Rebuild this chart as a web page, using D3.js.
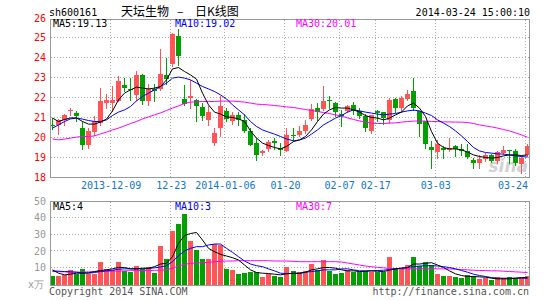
<!DOCTYPE html>
<html><head><meta charset="utf-8">
<script src="https://cdn.jsdelivr.net/npm/d3@7"></script>
<style>
body{margin:0;background:#fff}
svg{display:block}
text{font-family:"DejaVu Sans Mono",monospace;font-size:10px}
</style>
</head><body>
<svg id="c" width="545" height="300"></svg>
<script>
const dates = ["2013-11-25","2013-11-26","2013-11-27","2013-11-28","2013-11-29","2013-12-02","2013-12-03","2013-12-04","2013-12-05","2013-12-06",
"2013-12-09","2013-12-10","2013-12-11","2013-12-12","2013-12-13","2013-12-16","2013-12-17","2013-12-18","2013-12-19","2013-12-20",
"2013-12-23","2013-12-24","2013-12-25","2013-12-26","2013-12-27","2013-12-30","2013-12-31","2014-01-02","2014-01-03",
"2014-01-06","2014-01-07","2014-01-08","2014-01-09","2014-01-10","2014-01-13","2014-01-14","2014-01-15","2014-01-16","2014-01-17",
"2014-01-20","2014-01-21","2014-01-22","2014-01-23","2014-01-24","2014-01-27","2014-01-28","2014-01-29","2014-01-30",
"2014-02-07","2014-02-10","2014-02-11","2014-02-12","2014-02-13","2014-02-14","2014-02-17","2014-02-18","2014-02-19","2014-02-20","2014-02-21",
"2014-02-24","2014-02-25","2014-02-26","2014-02-27","2014-02-28","2014-03-03","2014-03-04","2014-03-05","2014-03-06","2014-03-07",
"2014-03-10","2014-03-11","2014-03-12","2014-03-13","2014-03-14","2014-03-17","2014-03-18","2014-03-19","2014-03-20","2014-03-21","2014-03-24"];

const open = [20.65,20.65,20.9,21.3,21.22,20.47,19.6,20.27,20.72,21.72,
21.72,21.83,22.63,22.42,22.13,23.15,21.8,22.45,22.45,23.12,
23.68,25.08,21.93,21.97,21.88,21.53,20.88,19.72,20.47,
21.33,20.8,21.1,20.85,20.33,19.75,19.22,19.43,19.83,19.5,
19.33,20.15,20.13,20.33,20.93,21.5,21.43,21.9,21.72,
21.2,21.33,21.63,21.33,21.05,20.33,21.33,21.27,20.88,21.93,21.47,
21.93,22.33,21.3,20.8,19.52,19.27,19.47,19.4,19.58,19.43,
19.33,18.88,18.72,18.93,19.1,18.8,19.22,19.38,19.33,18.67,19.1];
const high = [21.0,20.95,21.2,21.5,21.3,20.8,20.47,21.05,22.47,22.2,
22.55,23.08,23.0,22.97,23.3,23.2,22.7,22.7,24.45,24.0,
25.22,25.45,22.63,22.88,21.93,21.72,21.55,20.47,22.05,
21.5,21.27,21.27,21.17,20.47,19.97,19.38,19.88,19.97,19.72,
20.47,20.47,20.55,20.88,21.68,21.72,22.55,22.05,21.77,
21.38,21.6,21.77,21.47,21.17,21.13,21.38,21.27,22.0,22.0,22.05,
22.38,23.0,21.33,20.8,19.83,19.88,19.55,19.97,19.6,19.68,
19.67,18.97,19.13,19.22,19.17,19.33,19.55,19.4,19.43,19.05,19.67];
const low = [20.45,20.2,20.65,21.1,20.8,19.43,19.5,20.13,20.63,21.47,
21.3,21.8,22.3,21.88,21.9,21.7,21.65,21.8,22.4,22.7,
23.55,23.63,21.63,21.47,20.8,20.88,20.63,19.6,20.05,
20.8,20.67,20.63,20.3,19.6,18.88,19.13,19.33,19.43,19.13,
19.3,19.88,20.05,20.22,20.88,20.88,21.38,21.47,21.05,
20.55,21.27,21.17,21.0,20.33,20.22,20.8,20.67,20.72,21.27,21.27,
21.88,21.38,20.05,19.5,18.5,18.97,19.0,19.33,19.05,19.1,
18.97,18.47,18.5,18.8,18.78,18.75,19.2,18.75,18.63,18.22,19.05];
const close = [20.6,20.9,21.12,21.38,21.05,19.63,20.33,20.8,21.83,21.88,
21.85,22.83,22.5,22.35,23.13,21.8,22.45,22.3,23.2,22.92,
25.18,24.05,21.68,22.08,21.55,21.05,21.27,20.22,21.55,
20.93,21.1,20.9,20.33,19.63,19.13,19.33,19.77,19.72,19.38,
20.13,20.12,20.33,20.63,21.43,21.27,21.83,21.87,21.27,
21.05,21.55,21.33,21.05,20.47,21.1,21.22,20.97,21.88,21.47,21.97,
22.17,21.47,20.68,19.67,19.35,19.68,19.35,19.5,19.43,19.3,
19.02,18.72,18.93,19.13,18.8,19.27,19.38,19.35,18.72,18.97,19.55];
const volume = [5.0,5.0,5.6,8.4,6.4,9.2,6.0,6.4,13.1,9.2,
8.6,13.1,8.0,7.6,10.9,9.2,10.5,7.0,22.9,15.1,
31.8,36.0,41.8,25.9,20.5,15.1,15.1,23.9,23.5,
9.2,8.6,6.2,7.0,7.6,7.2,4.6,6.2,5.0,4.6,
10.5,8.0,7.2,8.0,12.1,8.6,14.5,8.0,6.2,
7.0,8.6,7.6,7.4,8.0,7.6,7.2,7.6,16.5,9.6,9.2,
11.5,16.5,10.9,13.5,11.5,6.2,5.0,5.0,4.4,4.0,
5.6,5.0,3.2,3.6,2.6,4.4,3.6,4.4,3.6,3.6,5.0];

const ma5 = [20.97,20.8,20.9,20.98,20.98,20.8,20.67,20.67,20.77,20.92,
21.33,21.88,22.22,22.38,22.52,22.47,22.43,22.47,22.55,22.88,
23.43,23.5,23.3,23.13,22.92,22.22,21.63,21.27,21.17,
21.03,21.0,20.93,20.8,20.33,19.97,19.72,19.6,19.5,19.43,
19.55,19.8,19.88,20.05,20.38,20.8,21.17,21.38,21.5,
21.47,21.47,21.38,21.27,21.1,21.0,20.97,20.88,20.97,21.13,21.27,
21.58,21.72,21.47,21.05,20.3,19.72,19.5,19.43,19.43,19.38,
19.27,19.13,19.05,19.0,18.97,19.0,19.08,19.13,19.13,19.1,19.13];
const ma10 = [20.47,20.63,20.8,20.93,20.97,20.92,20.85,20.8,20.8,20.88,
21.1,21.27,21.38,21.55,21.83,22.05,22.22,22.38,22.55,22.72,
22.97,23.02,22.97,22.88,22.72,22.55,22.43,22.3,22.13,
21.93,21.63,21.38,21.13,20.8,20.55,20.38,20.27,20.17,20.05,
19.93,19.83,19.88,19.97,20.17,20.38,20.63,20.8,20.97,
21.1,21.27,21.38,21.33,21.27,21.22,21.17,21.13,21.17,21.2,21.27,
21.33,21.37,21.33,21.22,21.1,20.88,20.72,20.55,20.33,20.08,
19.8,19.5,19.33,19.25,19.22,19.18,19.17,19.13,19.08,19.05,19.02];
const ma30 = [19.93,19.88,19.92,19.97,20.02,20.05,20.05,20.08,20.18,20.27,
20.38,20.47,20.58,20.7,20.8,20.93,21.03,21.13,21.23,21.35,
21.47,21.58,21.7,21.77,21.78,21.8,21.8,21.8,21.82,
21.82,21.82,21.8,21.77,21.72,21.67,21.65,21.63,21.6,21.57,
21.53,21.5,21.45,21.4,21.35,21.3,21.25,21.2,21.13,
21.07,20.98,20.9,20.83,20.77,20.72,20.7,20.7,20.72,20.73,20.77,
20.8,20.82,20.82,20.82,20.8,20.8,20.78,20.78,20.77,20.77,
20.75,20.7,20.63,20.58,20.53,20.47,20.4,20.33,20.23,20.13,20.01];

const vma5 = [8.6,6.6,5.6,6.0,6.6,6.6,6.8,7.6,8.2,8.6,
9.2,10.1,10.0,9.2,9.2,9.6,9.6,10.5,12.1,12.5,
16.5,24.5,29.1,30.4,31.0,26.5,21.5,19.5,17.9,
16.9,15.9,14.5,11.5,8.6,7.0,6.6,6.4,6.0,5.6,
6.2,6.6,6.6,7.2,8.6,9.2,10.0,10.0,9.6,
8.6,8.0,8.0,7.6,7.8,8.0,7.8,7.6,8.4,9.2,9.6,
10.0,12.1,12.1,12.5,12.9,11.5,10.0,8.0,6.2,5.2,
4.6,4.6,4.4,4.2,3.6,3.2,3.2,3.2,3.6,4.0,4.0];
const vma10 = [8.0,7.8,7.6,7.4,7.2,6.8,6.6,7.0,7.6,8.0,
8.4,9.0,9.2,9.2,9.2,9.2,9.4,9.8,10.3,11.1,
13.5,17.1,19.9,21.5,22.5,22.5,23.5,24.1,24.1,
21.5,19.1,16.5,13.9,12.1,11.1,10.5,9.2,8.0,6.6,
6.4,6.4,6.4,7.2,7.6,8.0,8.6,8.6,8.6,
9.2,9.2,8.6,8.0,8.0,8.0,8.2,8.4,8.8,9.2,9.6,
10.0,10.5,10.9,11.1,11.1,10.9,10.5,10.0,9.2,8.2,
7.2,6.0,5.2,4.6,4.0,3.6,3.6,3.6,3.6,3.6,3.5];
const vma30 = [7.6,7.5,7.4,7.3,7.2,7.3,7.4,7.5,7.6,7.7,
7.8,7.9,8.0,8.1,8.2,8.2,8.2,8.3,8.4,8.6,
9.6,10.9,11.9,12.5,12.7,12.9,13.1,13.5,13.7,
13.9,13.9,14.1,14.1,14.1,14.1,14.1,14.1,13.9,13.9,
13.9,13.7,13.5,13.5,13.5,13.5,13.5,13.5,13.5,
13.3,12.7,12.1,11.5,10.9,10.5,10.1,9.8,9.4,9.2,9.2,
9.2,9.2,9.2,9.2,9.2,9.2,9.2,9.2,9.0,8.8,
8.6,8.4,8.2,8.2,8.0,8.0,7.8,7.6,7.4,7.2,7.0];

const priceTicks = [18,19,20,21,22,23,24,25,26];
const volTicks = [10,20,30,40,50];
const tickDates = ["2013-12-09","2013-12-23","2014-01-06","2014-01-20","2014-02-07","2014-02-17","2014-03-03","2014-03-24"];
const tickLabels = ["2013-12-09","12-23","2014-01-06","01-20","02-07","02-17","03-03","03-24"];

const RED="#ff5555", GREEN="#00a000";
const svg = d3.select("#c");

const x = d3.scaleBand().domain(dates).range([50,530]).paddingInner(1/6).paddingOuter(0).align(0);
const yP = d3.scaleLinear().domain([18,26]).range([177.5,17.5]);
const yV = d3.scaleLinear().domain([0,50]).range([284.2,200.8]);
const cx = d => Math.round(x(d)) + 2.5;

// header
svg.append("text").attr("x",49).attr("y",16).text("sh600161");
const title = svg.append("text").attr("y",15.5).style("font-family","'Noto Sans CJK SC'").style("font-size","12px");
title.append("tspan").attr("x",121).text("天坛生物");
title.append("tspan").attr("x",177).text("–");
title.append("tspan").attr("x",195).text("日K线图");
svg.append("text").attr("x",530).attr("y",16).attr("text-anchor","end").text("2014-03-24 15:00:10");

// grids
const grid = svg.append("g").attr("stroke","#aaa").attr("stroke-dasharray","1,2").attr("shape-rendering","crispEdges");
priceTicks.filter(t=>t>18&&t<26).forEach(t=>{
  const y=Math.floor(yP(t))+0.5;
  grid.append("line").attr("x1",51).attr("x2",529).attr("y1",y).attr("y2",y);
});
volTicks.filter(t=>t<50).forEach(t=>{
  const y=Math.floor(yV(t))+0.5;
  grid.append("line").attr("x1",51).attr("x2",529).attr("y1",y).attr("y2",y);
});
tickDates.forEach(d=>{
  const xx=Math.round(x(d))+0.5;
  grid.append("line").attr("x1",xx).attr("x2",xx).attr("y1",20).attr("y2",177);
  grid.append("line").attr("x1",xx).attr("x2",xx).attr("y1",202).attr("y2",285);
});

// watermark
svg.append("text").attr("x",528).attr("y",172).attr("text-anchor","end")
  .style("font-family","'DejaVu Sans'").style("font-size","17px").style("font-style","italic").style("font-weight","bold")
  .attr("fill","#c8c8c8").attr("opacity",0.8).text("sina");

// candles
const cg = svg.append("g").attr("shape-rendering","crispEdges");
dates.forEach((d,i)=>{
  const up = close[i] >= open[i];
  const col = up ? RED : GREEN;
  const xx = Math.round(x(d));
  cg.append("line").attr("x1",xx+2.5).attr("x2",xx+2.5)
    .attr("y1",Math.round(yP(high[i]))).attr("y2",Math.round(yP(low[i]))+1).attr("stroke",col);
  const t=Math.round(yP(Math.max(open[i],close[i]))), b=Math.round(yP(Math.min(open[i],close[i])));
  cg.append("rect").attr("x",xx).attr("width",5).attr("y",t).attr("height",Math.max(1,b-t)).attr("fill",col);
  const vt=Math.round(yV(volume[i]));
  cg.append("rect").attr("x",xx).attr("width",5).attr("y",vt).attr("height",285-vt).attr("fill",col);
});

// MA lines
const lineP = arr => d3.line().x((v,i)=>cx(dates[i])).y(v=>yP(v))(arr);
const lineV = arr => d3.line().x((v,i)=>cx(dates[i])).y(v=>yV(v))(arr);
const lg = svg.append("g").attr("fill","none").attr("stroke-width",1);
[[ma30,"#ff00ff"],[ma10,"#0000ff"],[ma5,"#000000"]].forEach(([a,c])=>lg.append("path").attr("d",lineP(a)).attr("stroke",c));
[[vma30,"#ff00ff"],[vma10,"#0000ff"],[vma5,"#000000"]].forEach(([a,c])=>lg.append("path").attr("d",lineV(a)).attr("stroke",c));

// frames
svg.append("rect").attr("x",50.5).attr("y",19.5).attr("width",479).attr("height",158).attr("fill","none").attr("stroke","#999");
svg.append("rect").attr("x",50.5).attr("y",201.5).attr("width",479).attr("height",84).attr("fill","none").attr("stroke","#999");

// MA labels
const last = a => a[a.length-1];
svg.append("text").attr("x",53).attr("y",27).attr("fill","#000").text("MA5:"+last(ma5).toFixed(2));
svg.append("text").attr("x",175).attr("y",27).attr("fill","#0000ff").text("MA10:"+last(ma10).toFixed(2));
svg.append("text").attr("x",296).attr("y",27).attr("fill","#ff00ff").text("MA30:"+last(ma30).toFixed(2));
svg.append("text").attr("x",53).attr("y",210).attr("fill","#000").text("MA5:"+Math.floor(last(vma5)));
svg.append("text").attr("x",175).attr("y",210).attr("fill","#0000ff").text("MA10:"+Math.floor(last(vma10)));
svg.append("text").attr("x",296).attr("y",210).attr("fill","#ff00ff").text("MA30:"+Math.floor(last(vma30)));

// axes
const ay = svg.append("g").attr("transform","translate(50,0)")
  .call(d3.axisLeft(yP).tickValues(priceTicks).tickSize(0).tickPadding(4).tickFormat(d3.format("d")));
ay.select(".domain").remove();
ay.selectAll("text").attr("fill","#ff0000").style("font-family","'DejaVu Sans Mono'").style("font-size","10px");
ay.selectAll(".tick").filter(d=>d===26).select("text").attr("dy","0.42em");

const av = svg.append("g").attr("transform","translate(50,0)")
  .call(d3.axisLeft(yV).tickValues(volTicks).tickSize(0).tickPadding(4).tickFormat(d3.format("d")));
av.select(".domain").remove();
av.selectAll("text").attr("fill","#999").style("font-family","'DejaVu Sans Mono'").style("font-size","10px");
svg.append("text").attr("x",44).attr("y",288).attr("text-anchor","end").attr("fill","#999").text("x万");

const ax = svg.append("g").attr("transform","translate(0,182)")
  .call(d3.axisBottom(x).tickValues(tickDates).tickSize(0).tickPadding(0).tickFormat((d,i)=>tickLabels[i]));
ax.select(".domain").remove();
ax.selectAll("text").attr("fill","#1177cc").style("font-family","'DejaVu Sans Mono'").style("font-size","10px").attr("dx","-1.5");
ax.selectAll(".tick").filter(d=>d==="2014-03-24").select("text").attr("text-anchor","end").attr("dx","0").attr("x",0)
  .attr("transform","translate(0.5,0)");

// footer
svg.append("text").attr("x",49).attr("y",294.5).attr("fill","#555").text("Copyright 2014 SINA.COM");
svg.append("text").attr("x",529).attr("y",294.5).attr("text-anchor","end").attr("fill","#555").text("http://finance.sina.com.cn");
</script>
</body></html>
